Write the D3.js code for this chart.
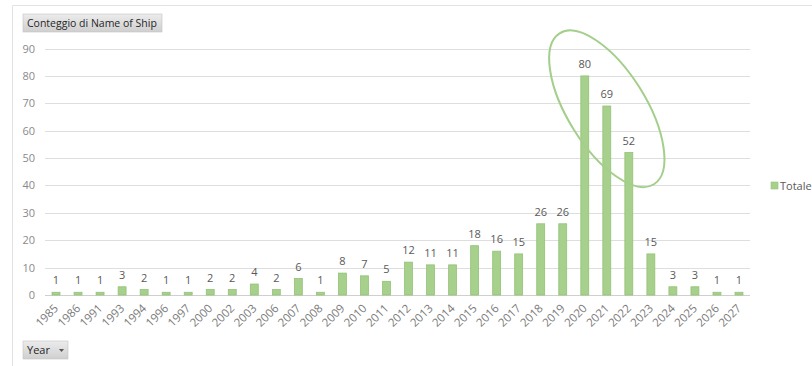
<!DOCTYPE html>
<html>
<head>
<meta charset="utf-8">
<script src="https://cdn.jsdelivr.net/npm/d3@7/dist/d3.min.js"></script>
<style>
  html, body { margin: 0; padding: 0; background: #fff; }
  svg { display: block; font-family: "Open Sans", "Noto Sans", sans-serif; }
</style>
</head>
<body>
<svg id="chart" width="812" height="366"></svg>
<script>
// Ship count per build year
const years = ["1985","1986","1991","1993","1994","1996","1997","2000","2002","2003","2006","2007","2008","2009","2010","2011","2012","2013","2014","2015","2016","2017","2018","2019","2020","2021","2022","2023","2024","2025","2026","2027"];
const counts = [1,1,1,3,2,1,1,2,2,4,2,6,1,8,7,5,12,11,11,18,16,15,26,26,80,69,52,15,3,3,1,1];
const yTicks = [0,10,20,30,40,50,60,70,80,90];
const highlighted = ["2020","2021","2022"];
const seriesName = "Totale";
const fieldTitle = "Conteggio di Name of Ship";
const axisField = "Year";

const svg = d3.select("#chart");
const W = 812, H = 366;
const margin = { left: 45, right: 62, top: 48.5, bottom: 71 };

const defs = svg.append("defs");
const grad = defs.append("linearGradient").attr("id", "btn").attr("x1", 0).attr("y1", 0).attr("x2", 0).attr("y2", 1);
grad.append("stop").attr("offset", "0%").attr("stop-color", "#ececec");
grad.append("stop").attr("offset", "100%").attr("stop-color", "#cfcfcf");

// outer chart frame
svg.append("path")
  .attr("d", `M12.5,${H} L12.5,5.5 L${W},5.5`)
  .attr("fill", "none").attr("stroke", "#e2e2e2").attr("stroke-width", 1);

const x = d3.scaleBand().domain(years).range([margin.left, W - margin.right]).paddingInner(0.64).paddingOuter(0.32);
const y = d3.scaleLinear().domain([0, 90]).range([H - margin.bottom, margin.top]);

// horizontal gridlines
svg.append("g").selectAll("line").data(yTicks).join("line")
  .attr("x1", margin.left).attr("x2", W - margin.right)
  .attr("y1", d => Math.round(y(d)) + 0.5).attr("y2", d => Math.round(y(d)) + 0.5)
  .attr("stroke", d => d === 0 ? "#cfcfcf" : "#dedede").attr("stroke-width", 1);

// y axis labels
const yAxis = d3.axisLeft(y).tickValues(yTicks).tickSize(0).tickPadding(0);
const gy = svg.append("g").attr("transform", `translate(${margin.left - 10},0)`).call(yAxis);
gy.select(".domain").remove();
gy.selectAll("text").attr("font-size", 11).attr("fill", "#8a8a8a").attr("font-family", "Open Sans, sans-serif");

// bars
svg.append("g").selectAll("rect").data(years).join("rect")
  .attr("x", d => x(d))
  .attr("width", x.bandwidth())
  .attr("y", (d, i) => y(counts[i]))
  .attr("height", (d, i) => y(0) - y(counts[i]))
  .attr("fill", "#a6d08c").attr("stroke", "#93c277").attr("stroke-width", 0.8);

// value labels
svg.append("g").selectAll("text").data(years).join("text")
  .attr("x", d => x(d) + x.bandwidth() / 2)
  .attr("y", (d, i) => y(counts[i]) - 8)
  .attr("text-anchor", "middle")
  .attr("font-size", 11).attr("fill", "#595959")
  .text((d, i) => counts[i]);

// x axis labels, rotated
const xAxis = d3.axisBottom(x).tickSize(0).tickPadding(0);
const gx = svg.append("g").attr("transform", `translate(0,${y(0)})`).call(xAxis);
gx.select(".domain").remove();
gx.selectAll("text")
  .attr("font-size", 11.5).attr("fill", "#7a7a7a").attr("font-family", "Open Sans, sans-serif")
  .attr("text-anchor", "end").attr("dy", 0)
  .attr("transform", "translate(3,14) rotate(-45)");

// ellipse around the highlighted years
const mid = highlighted[Math.floor(highlighted.length / 2)];
const cx = x(mid) + x.bandwidth() / 2;
const cy = y(68);
svg.append("ellipse")
  .attr("transform", `translate(${cx},${cy}) rotate(58)`)
  .attr("rx", 89).attr("ry", 39)
  .attr("fill", "none").attr("stroke", "#a3cf8a").attr("stroke-width", 2);

// legend
const lg = svg.append("g").attr("transform", "translate(771,182)");
lg.append("rect").attr("width", 7).attr("height", 7).attr("fill", "#a6d08c").attr("stroke", "#93c277").attr("stroke-width", 0.6);
lg.append("text").attr("x", 9).attr("y", 7.5).attr("font-size", 11).attr("fill", "#595959").text(seriesName);

// field buttons
const b1 = svg.append("g").attr("transform", "translate(23,14)");
b1.append("rect").attr("width", 139).attr("height", 18).attr("fill", "url(#btn)").attr("stroke", "#c4c4c4").attr("stroke-width", 0.6);
b1.append("text").attr("x", 4).attr("y", 13).attr("font-size", 10.5).attr("fill", "#262626").text(fieldTitle);

const b2 = svg.append("g").attr("transform", "translate(23,341)");
b2.append("rect").attr("width", 45).attr("height", 18).attr("fill", "url(#btn)").attr("stroke", "#c4c4c4").attr("stroke-width", 0.6);
b2.append("text").attr("x", 4).attr("y", 13).attr("font-size", 11).attr("fill", "#262626").text(axisField);
b2.append("path").attr("d", "M36,8 L41,8 L38.5,11 Z").attr("fill", "#555");
</script>
</body>
</html>
